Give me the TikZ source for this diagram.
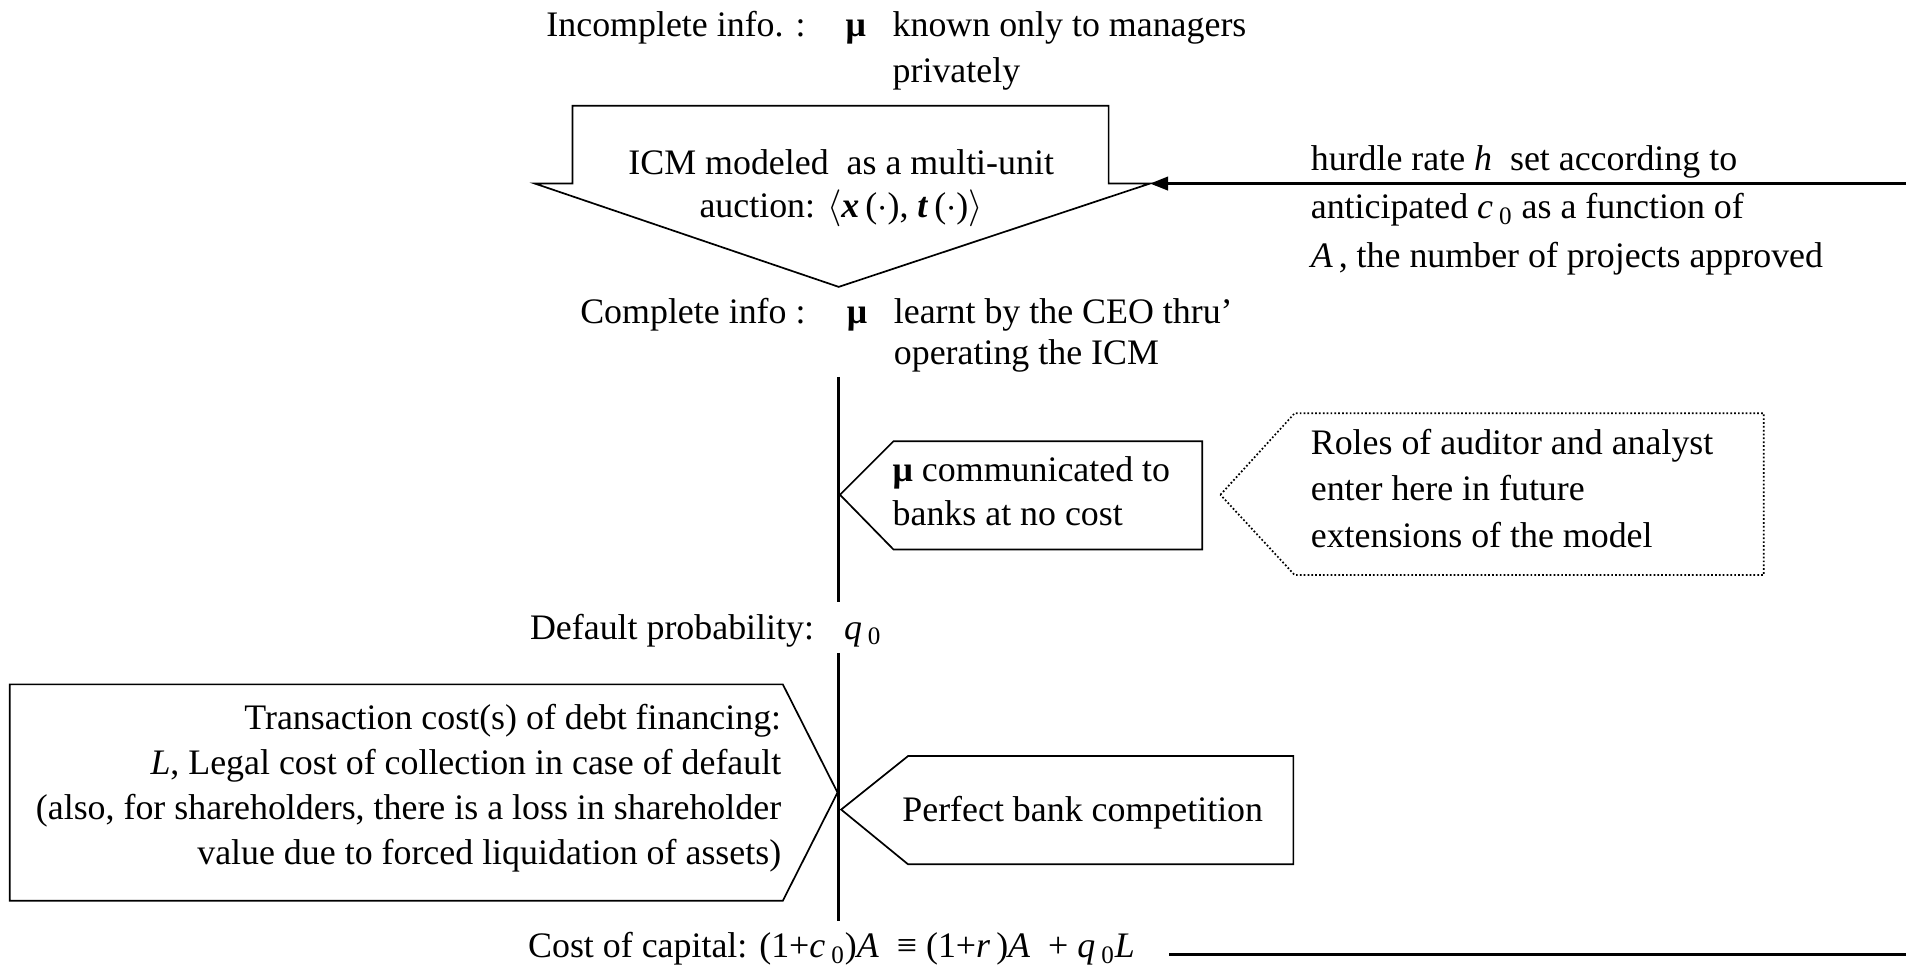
\documentclass[tikz,border=0pt]{standalone}
\usepackage{fontspec}
\setmainfont{Liberation Serif}
\usetikzlibrary{arrows.meta}
\tikzset{
  txt/.style={inner sep=0pt, font=\fontsize{16.8}{20}\selectfont},
  lsp/.style={font=\fontsize{16.8}{#1}\selectfont},
  callout/.style={draw, line width=0.8pt, line join=miter},
  spine/.style={line width=1.5pt},
  flow/.style={-{Triangle[length=0.3cm,width=0.22cm]}, line width=1.4pt}
}
\newcommand{\mub}{{\bfseries μ}}
\newcommand{\vsub}[2]{\textit{#1}\,\textsubscript{#2}}

\begin{document}
\begin{tikzpicture}[x=0.02cm, y=-0.02cm]
  \useasboundingbox (0,0) rectangle (1568,795);
  % incomplete information (multi-line nodes sit on their last baseline)
  \node[txt, anchor=base east] (incomplete) at (663,30) {Incomplete info. :};
  \node[txt, anchor=base] (mutop) at (704,30) {\mub};
  \node[txt, lsp=21.6, anchor=base west, align=left] (known) at (734,68) {known only to managers\\privately};

  % ICM block
  \coordinate (wingR) at (946,151);
  \draw[callout] (471,87) -- (912,87) -- (912,151) -- (wingR) -- (690,236) -- (440,151) -- (471,151) -- cycle;
  \node[txt, lsp=20, anchor=base, align=center] (icm) at (692,179)
    {ICM modeled\ \ as a multi-unit\\auction: $\langle$\textbf{\textit{x}}\,($\cdot$), \textbf{\textit{t}}\,($\cdot$)$\rangle$};

  % hurdle rate
  \node[txt, lsp=22.8, anchor=base west, align=left] (hurdle) at (1078,220)
    {hurdle rate \textit{h}\ \ set according to\\anticipated \vsub{c}{0} as a function of\\\textit{A}\,, the number of projects approved};
  \coordinate (hin) at (1568,151);
  \draw[flow] (hin) -- (wingR);

  % complete information
  \node[txt, anchor=base east] (complete) at (663,266) {Complete info :};
  \node[txt, anchor=base] (mumid) at (705,266) {\mub};
  \node[txt, lsp=19.4, anchor=base west, align=left] (learnt) at (735,300) {learnt by the CEO thru’\\operating the ICM};

  % spine
  \coordinate (s1) at (690,310);
  \coordinate (s2) at (690,495);
  \coordinate (s3) at (690,537);
  \coordinate (s4) at (690,758);
  \draw[spine] (s1) -- (s2);
  \draw[spine] (s3) -- (s4);

  % banks
  \draw[callout] (691,407) -- (735,363) -- (989,363) -- (989,452) -- (735,452) -- cycle;
  \node[txt, lsp=20.5, anchor=base west, align=left] (comm) at (734,432) {\mub{} communicated to\\banks at no cost};

  % auditor and analyst
  \draw[callout, densely dotted] (1004,407) -- (1065,340) -- (1451,340) -- (1451,473) -- (1065,473) -- cycle;
  \node[txt, lsp=21.6, anchor=base west, align=left] (roles) at (1078,450)
    {Roles of auditor and analyst\\enter here in future\\extensions of the model};

  % default probability
  \node[txt, anchor=base east] (default) at (670,526) {Default probability:};
  \node[txt, anchor=base west] (qzero) at (694,526) {\vsub{q}{0}};

  % transaction costs
  \draw[callout] (8,563) -- (644,563) -- (689,652) -- (644,741) -- (8,741) -- cycle;
  \node[txt, lsp=21, anchor=base east, align=right] (trans) at (643,711)
    {Transaction cost(s) of debt financing:\\\textit{L}, Legal cost of collection in case of default\\(also, for shareholders, there is a loss in shareholder\\value due to forced liquidation of assets)};

  % bank competition
  \draw[callout] (692,666) -- (747,622) -- (1064,622) -- (1064,711) -- (747,711) -- cycle;
  \node[txt, anchor=base west] (perfect) at (742,676) {Perfect bank competition};

  % cost of capital
  \node[txt, anchor=base east] (cost) at (934,788)
    {Cost of capital: (1+\vsub{c}{0})\textit{A}\ \ ≡ (1+\textit{r}\,)\textit{A}\ \ + \vsub{q}{0}\textit{L}};
  \coordinate (cin) at (962,785);
  \coordinate (cout) at (1568,785);
  \draw[line width=1.6pt] (cin) -- (cout);
\end{tikzpicture}
\end{document}
